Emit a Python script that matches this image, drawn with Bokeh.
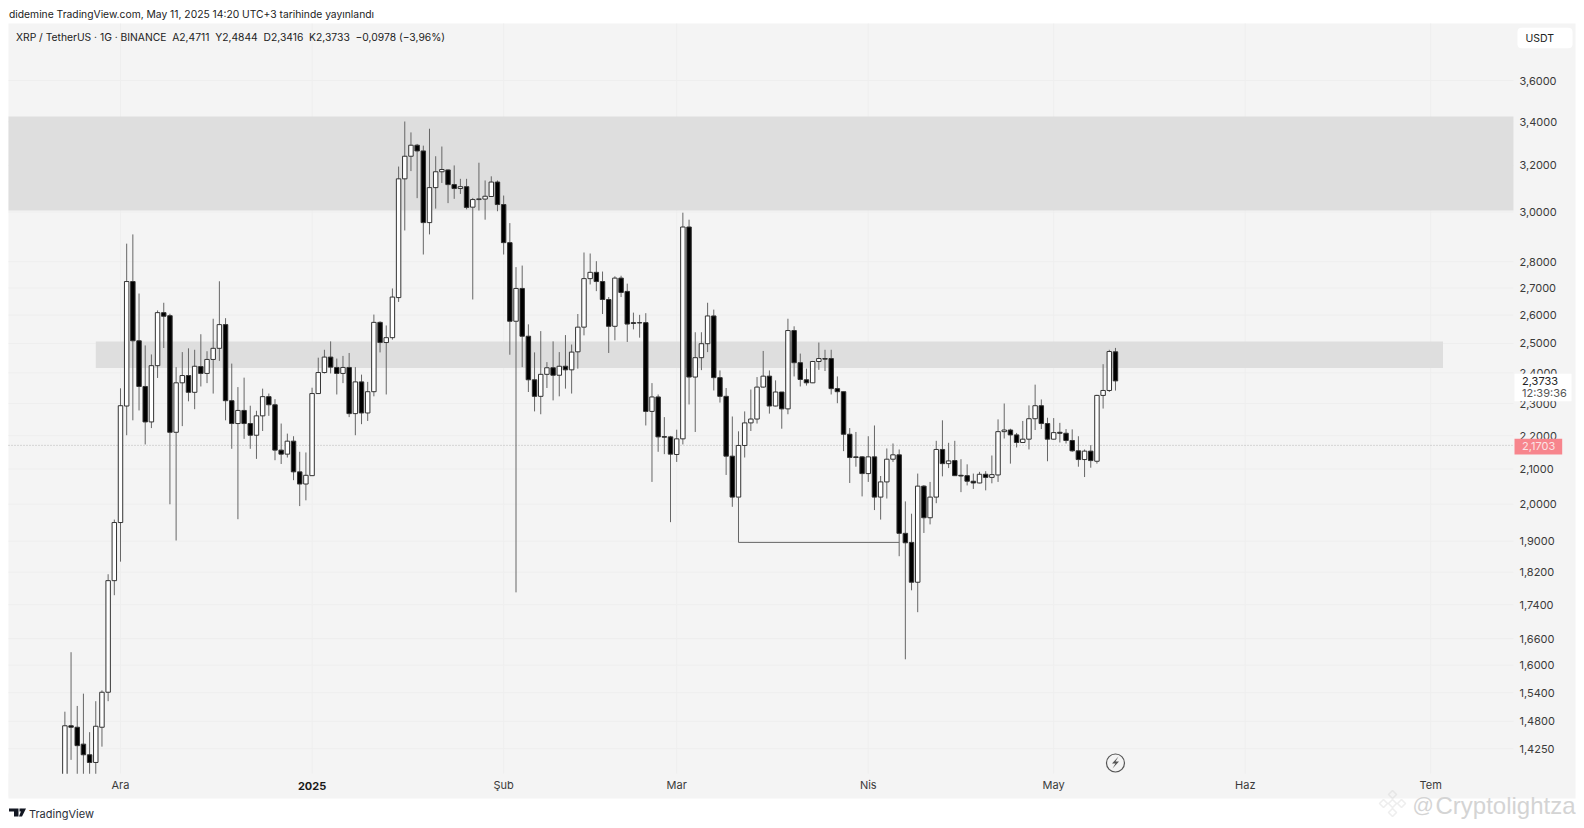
from bokeh.plotting import figure
from bokeh.embed import file_html
from bokeh.resources import INLINE
from bokeh.models import (Range1d, FixedTicker, BoxAnnotation, Label, PolyAnnotation, ColumnDataSource)

FIRST_DAY = -9   # days relative to 1 Dec 2024
opens = [1.345,1.471,1.468,1.434,1.413,1.398,1.468,1.541,1.799,1.950,2.292,2.724,2.509,2.355,2.242,2.424,2.609,2.598,2.210,2.367,
2.391,2.336,2.421,2.398,2.445,2.483,2.566,2.309,2.237,2.278,2.237,2.201,2.261,2.322,2.296,2.156,2.144,2.183,2.092,2.057,
2.081,2.332,2.401,2.453,2.418,2.398,2.418,2.268,2.370,2.270,2.338,2.574,2.503,2.520,2.664,3.141,3.241,3.291,3.265,2.956,
3.103,3.172,3.180,3.116,3.099,3.107,3.020,3.052,3.054,3.065,3.127,3.031,2.875,2.578,2.698,2.525,2.377,2.323,2.395,2.417,
2.392,2.422,2.410,2.471,2.557,2.735,2.759,2.724,2.657,2.560,2.737,2.687,2.573,2.573,2.573,2.275,2.321,2.197,2.196,2.143,
2.190,2.938,2.386,2.451,2.499,2.597,2.384,2.323,2.138,2.020,2.170,2.239,2.251,2.353,2.389,2.292,2.337,2.283,2.545,2.434,
2.377,2.367,2.438,2.448,2.448,2.348,2.338,2.204,2.136,2.136,2.087,2.136,2.020,2.063,2.129,2.142,1.921,1.897,1.795,2.051,
1.963,2.020,2.158,2.116,2.125,2.082,2.081,2.065,2.060,2.085,2.076,2.083,2.212,2.217,2.202,2.179,2.189,2.252,2.293,2.237,
2.189,2.210,2.207,2.185,2.154,2.128,2.153,2.123,2.326,2.342,2.4711]
highs = [1.500,1.629,1.512,1.538,1.458,1.522,1.545,1.815,1.958,2.349,2.871,2.908,2.679,2.493,2.462,2.617,2.645,2.605,2.419,2.470,
2.483,2.478,2.532,2.473,2.587,2.725,2.589,2.431,2.353,2.384,2.293,2.277,2.348,2.332,2.314,2.237,2.206,2.198,2.151,2.149,
2.351,2.451,2.478,2.507,2.448,2.457,2.467,2.419,2.394,2.370,2.602,2.578,2.563,2.698,3.195,3.401,3.350,3.297,3.289,3.367,
3.241,3.285,3.182,3.200,3.141,3.141,3.059,3.212,3.134,3.152,3.134,3.069,2.954,2.779,2.785,2.567,2.469,2.543,2.436,2.507,
2.470,2.529,2.496,2.604,2.836,2.832,2.802,2.762,2.666,2.744,2.746,2.716,2.609,2.601,2.607,2.366,2.329,2.257,2.199,2.218,
2.997,2.968,2.539,2.539,2.645,2.620,2.408,2.350,2.259,2.213,2.275,2.345,2.386,2.474,2.408,2.375,2.337,2.587,2.560,2.465,
2.414,2.440,2.503,2.478,2.478,2.388,2.338,2.223,2.211,2.138,2.198,2.231,2.080,2.161,2.176,2.158,2.008,1.974,2.087,2.054,
2.063,2.184,2.247,2.178,2.184,2.129,2.114,2.087,2.092,2.094,2.140,2.250,2.300,2.221,2.208,2.245,2.294,2.361,2.313,2.255,
2.254,2.239,2.220,2.219,2.198,2.158,2.171,2.328,2.429,2.478,2.4844]
lows = [1.34,1.403,1.345,1.355,1.355,1.364,1.429,1.522,1.763,1.847,2.201,2.247,2.278,2.173,2.223,2.383,2.484,2.000,1.902,2.229,
2.307,2.282,2.355,2.366,2.332,2.440,2.247,2.160,1.959,2.190,2.160,2.130,2.214,2.261,2.126,2.115,2.134,2.068,1.995,2.011,
2.080,2.332,2.398,2.398,2.329,2.366,2.257,2.201,2.235,2.245,2.323,2.469,2.329,2.513,2.648,2.924,3.175,3.058,2.828,2.908,
3.014,3.123,3.037,3.055,3.076,3.011,2.657,3.006,2.968,3.065,3.003,2.828,2.461,1.770,2.419,2.337,2.275,2.266,2.350,2.310,
2.323,2.348,2.332,2.414,2.528,2.713,2.688,2.604,2.467,2.511,2.666,2.505,2.549,2.520,2.231,2.063,2.151,2.144,1.951,2.121,
2.173,2.297,2.211,2.409,2.470,2.342,2.303,2.083,1.993,2.011,2.134,2.214,2.237,2.351,2.268,2.291,2.221,2.266,2.388,2.355,
2.358,2.366,2.410,2.406,2.329,2.301,2.153,2.060,2.107,2.022,2.063,1.984,1.958,2.016,2.121,1.861,1.613,1.775,1.722,1.922,
1.945,2.003,2.079,2.103,2.080,2.034,2.053,2.043,2.059,2.039,2.059,2.063,2.191,2.116,2.164,2.178,2.158,2.217,2.220,2.123,
2.188,2.179,2.176,2.151,2.107,2.077,2.104,2.116,2.284,2.337,2.3416]
closes = [1.471,1.468,1.431,1.413,1.398,1.470,1.541,1.799,1.950,2.293,2.724,2.509,2.355,2.242,2.424,2.609,2.596,2.210,2.367,2.391,
2.336,2.422,2.398,2.445,2.483,2.566,2.309,2.237,2.278,2.237,2.201,2.261,2.322,2.296,2.156,2.144,2.183,2.092,2.057,2.082,
2.332,2.401,2.453,2.419,2.398,2.418,2.268,2.370,2.270,2.338,2.574,2.503,2.520,2.666,3.141,3.241,3.291,3.265,2.956,3.103,
3.172,3.182,3.116,3.099,3.107,3.019,3.052,3.055,3.066,3.127,3.031,2.875,2.578,2.698,2.525,2.377,2.323,2.395,2.417,2.392,
2.422,2.410,2.470,2.557,2.735,2.759,2.724,2.657,2.560,2.737,2.683,2.568,2.570,2.572,2.275,2.321,2.196,2.195,2.144,2.190,
2.938,2.386,2.451,2.499,2.597,2.384,2.323,2.138,2.020,2.170,2.239,2.251,2.353,2.389,2.292,2.337,2.283,2.545,2.434,2.378,
2.367,2.438,2.448,2.446,2.348,2.338,2.204,2.134,2.134,2.087,2.136,2.020,2.063,2.129,2.142,1.921,1.896,1.795,2.051,1.963,
2.020,2.158,2.116,2.124,2.081,2.080,2.065,2.060,2.085,2.076,2.084,2.212,2.217,2.202,2.179,2.189,2.252,2.293,2.237,2.189,
2.209,2.207,2.185,2.154,2.128,2.153,2.125,2.326,2.342,2.472,2.3733]

price_ticks = [3.6,3.4,3.2,3.0,2.8,2.7,2.6,2.5,2.4,2.3,2.2,2.1,2.0,1.9,1.82,1.74,1.66,1.6,1.54,1.48,1.425]
month_days = [0,31,62,90,121,151,182,212]
month_labels = ["Ara","","Şub","Mar","Nis","May","Haz","Tem"]
year_day, year_label = 31, "2025"
supply_zone = (3.006, 3.425)
mid_zone = (2.416, 2.507, -4, 214)
ref_price = 2.1703
last_price = 2.3733
l_days = [100, 100, 126]
l_prices = [2.02, 1.897, 1.897]
alert_day, alert_price = 161, 1.397

FONT = "Inter"
PANEL = "#f4f4f4"
GRID = "#eeeeee"
ZONE = "#dedede"
W, H = 1576, 822
PANE_LEFT, PANE_RIGHT = -18.12, 225.4
PANE_BOTTOM, PANE_TOP = 1.3765, 3.896
STRIP_BOTTOM = 1.3335

p = figure(width=W, height=H, output_backend="svg", toolbar_location=None,
           x_range=Range1d(-19.417, 235.6), y_range=Range1d(1.2863, 4.0225),
           y_axis_type="log", y_axis_location="right",
           min_border_left=0, min_border_right=0, min_border_top=0, min_border_bottom=0)
p.background_fill_color = "#ffffff"
p.border_fill_color = "#ffffff"
p.outline_line_color = None
p.xgrid.visible = False
p.ygrid.visible = False

p.add_layout(BoxAnnotation(left=8, right=1575, top=23, bottom=798, left_units="canvas", right_units="canvas",
                           top_units="canvas", bottom_units="canvas", fill_color=PANEL, fill_alpha=1,
                           line_color=None, level="underlay"))

ax = p.yaxis[0]
ax.fixed_location = PANE_RIGHT
ax.ticker = FixedTicker(ticks=price_ticks)
ax.major_label_overrides = {t: f"{t:.4f}".replace(".", ",") for t in price_ticks}
ax.major_label_text_font = FONT
ax.major_label_text_font_size = "11px"
ax.major_label_text_color = "#3a3a3a"
ax.axis_line_color = None
ax.major_tick_line_color = None
ax.minor_tick_line_color = None
ax.major_label_standoff = 0

bx = p.xaxis[0]
bx.fixed_location = PANE_BOTTOM
bx.ticker = FixedTicker(ticks=month_days)
bx.major_label_overrides = dict(zip(month_days, month_labels))
bx.major_label_text_font = FONT
bx.major_label_text_font_size = "11px"
bx.major_label_text_color = "#3a3a3a"
bx.axis_line_color = None
bx.major_tick_line_color = None
bx.minor_tick_line_color = None
bx.major_label_standoff = -2

# Grid within the chart pane, from the tick lists
p.segment(month_days, [PANE_BOTTOM]*len(month_days), month_days, [PANE_TOP]*len(month_days), line_color=GRID, line_width=1)
p.segment([PANE_LEFT]*len(price_ticks), price_ticks, [PANE_RIGHT]*len(price_ticks), price_ticks, line_color=GRID, line_width=1)

# Zones
p.quad(left=[PANE_LEFT, mid_zone[2]], right=[PANE_RIGHT, mid_zone[3]],
       bottom=[supply_zone[0], mid_zone[0]], top=[supply_zone[1], mid_zone[1]],
       fill_color=ZONE, line_color=None)

p.line([PANE_LEFT, PANE_RIGHT], [ref_price, ref_price], line_color="#b4b4b4", line_dash="1 2", line_width=1)

days = [FIRST_DAY + i for i in range(len(opens))]
up = [c >= o for o, c in zip(opens, closes)]
src = ColumnDataSource(dict(day=days, o=opens, h=highs, l=lows, c=closes,
                            top=[max(o, c) for o, c in zip(opens, closes)],
                            bot=[min(o, c) for o, c in zip(opens, closes)],
                            fill=["#ffffff" if u else "#000000" for u in up]))
p.segment("day", "l", "day", "h", source=src, line_color="#666666", line_width=1)
p.vbar("day", top="top", bottom="bot", width=0.72, source=src, fill_color="fill", line_color="#333333", line_width=1)

p.line(l_days, l_prices, line_color="#666666", line_width=1)

# Time-scale strip: candles that run below the pane stop here
p.quad(left=[PANE_LEFT], right=[PANE_RIGHT], bottom=[STRIP_BOTTOM], top=[PANE_BOTTOM], fill_color=PANEL, line_color=None)

# Alert marker
p.scatter([alert_day], [alert_price], size=18, marker="circle", fill_color=None, line_color="#555555", line_width=1.2)
p.add_layout(PolyAnnotation(xs=[1118, 1111.5, 1115, 1112, 1118.5, 1115], ys=[756, 763, 763, 768, 761, 761],
                            xs_units="canvas", ys_units="canvas", fill_color="#555555", fill_alpha=1, line_color=None))

def lab(x, y, text, size, color="#222222", style="normal", align="left", units="canvas", font=FONT):
    p.add_layout(Label(x=x, y=y, x_units=units, y_units="canvas", text=text, text_font=font, text_font_size=f"{size}px",
                       text_color=color, text_font_style=style, text_align=align, text_baseline="middle"))

lab(year_day, 785, year_label, 11, color="#1a1a1a", style="bold", align="center", units="data")

lab(8.5, 13, "didemine TradingView.com, May 11, 2025 14:20 UTC+3 tarihinde yayınlandı", 10.3, color="#222222")
gap = "\u00a0\u00a0"
lab(15.5, 36, "XRP / TetherUS · 1G · BINANCE" + gap + "A2,4711" + gap + "Y2,4844" + gap + "D2,3416" + gap + "K2,3733" + gap + "−0,0978 (−3,96%)", 10.3, color="#222222")

def box(l, r, t, b, color, radius=0):
    p.add_layout(BoxAnnotation(left=l, right=r, top=t, bottom=b, left_units="canvas", right_units="canvas",
                               top_units="canvas", bottom_units="canvas", fill_color=color, fill_alpha=1,
                               line_color=None, border_radius=radius, level="annotation"))

box(1517, 1572, 27.3, 47.7, "#ffffff", 4)
lab(1525, 37.5, "USDT", 10.5, color="#222222")
box(1514, 1571, 373.3, 400.7, "#ffffff")
lab(1521.5, 380, f"{last_price:.4f}".replace(".", ","), 11, color="#222222")
lab(1521.5, 392, "12:39:36", 11, color="#555555")
box(1514, 1561.7, 438.3, 454, "#f7858d")
lab(1521.5, 445.5, f"{ref_price:.4f}".replace(".", ","), 11, color="#fbe3e5")

# TradingView footer
for xs, ys in [([8.5, 18, 18, 13.5, 13.5, 8.5], [808, 808, 816, 816, 811, 811]),
               ([19, 21.5, 21.5, 19], [808, 808, 811, 811]),
               ([21.5, 25.5, 21.5, 18.5], [808, 808, 816, 816])]:
    p.add_layout(PolyAnnotation(xs=xs, ys=ys, xs_units="canvas", ys_units="canvas", fill_color="#131722", fill_alpha=1, line_color=None))
lab(28.5, 813, "TradingView", 11, color="#2a2e39")

# Watermark
WM = "#d4d4d4"
cx, cy = 1392, 803
for dx, dy, r in [(0, -9, 4), (-9, 0, 4), (9, 0, 4), (0, 9, 4), (0, 0, 4)]:
    p.add_layout(PolyAnnotation(xs=[cx+dx, cx+dx+r, cx+dx, cx+dx-r], ys=[cy+dy-r, cy+dy, cy+dy+r, cy+dy],
                                xs_units="canvas", ys_units="canvas", fill_color=None, fill_alpha=0,
                                line_color="#c8c8c8", line_width=1.6, level="overlay"))
lab(1412, 804, "@", 21, color=WM, font="Liberation Sans")
lab(1435, 805, "Cryptolightza", 24, color=WM, font="Liberation Sans")

open("out.html", "w").write(file_html(p, INLINE))
